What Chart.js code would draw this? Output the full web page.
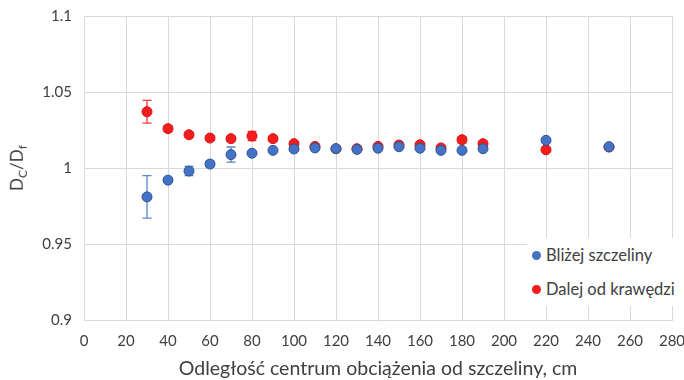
<!DOCTYPE html>
<html>
<head>
<meta charset="utf-8">
<script src="https://cdn.jsdelivr.net/npm/chart.js@4"></script>
<style>
  body { margin: 0; background: #fff; font-family: Lato, sans-serif; }
  #wrap { position: relative; width: 684px; height: 380px; }
  #ytitle { position: absolute; left: 6px; top: 168px; transform: translate(0, -50%) rotate(-90deg); transform-origin: center; font-size: 17px; color: #404040; width: 60px; text-align: center; margin-left: -18px; }
  #ytitle sub { font-size: 12px; }
  #legend { position: absolute; left: 527px; top: 238px; width: 148px; height: 68px; background: #fff; font-size: 16.5px; color: #404040; }
  #legend div { position: absolute; left: 5px; white-space: nowrap; }
  #legend span { display: inline-block; width: 9px; height: 9px; border-radius: 50%; margin-right: 5px; vertical-align: 1px; }
</style>
</head>
<body>
<div id="wrap">
  <canvas id="chart" width="684" height="380"></canvas>
  <div id="ytitle">D<sub>C</sub>/D<sub>f</sub></div>
  <div id="legend">
    <div style="top:7px"><span style="background:#4472C4"></span>Bliżej szczeliny</div>
    <div style="top:41px"><span style="background:#F21D1D"></span>Dalej od krawędzi</div>
  </div>
</div>
<script>
// odległość, cm
const distances = [30, 40, 50, 60, 70, 80, 90, 100, 110, 120, 130, 140, 150, 160, 170, 180, 190, 220, 250];
// Bliżej szczeliny
const nearValues = [0.981, 0.992, 0.998, 1.0026, 1.0088, 1.0097, 1.0116, 1.0125, 1.0132, 1.0127, 1.0122, 1.013, 1.014, 1.013, 1.0116, 1.0116, 1.0127, 1.0182, 1.014];
const nearErrors = [0.014, 0.0015, 0.003, 0.002, 0.005, 0.001, 0.001, 0.001, 0.001, 0.001, 0.001, 0.001, 0.001, 0.001, 0.001, 0.001, 0.001, 0.0015, 0.001];
// Dalej od krawędzi
const farValues = [1.037, 1.0259, 1.0219, 1.0197, 1.0193, 1.021, 1.0193, 1.016, 1.0142, 1.0127, 1.0127, 1.0142, 1.0151, 1.0153, 1.0132, 1.0186, 1.016, 1.012, 1.0138];
const farErrors = [0.0075, 0.002, 0.0015, 0.0015, 0.0015, 0.003, 0.0015, 0.001, 0.001, 0.001, 0.001, 0.001, 0.001, 0.001, 0.001, 0.002, 0.0015, 0.001, 0.001];

const xTicks = [0, 20, 40, 60, 80, 100, 120, 140, 160, 180, 200, 220, 240, 260, 280];
const yTicks = [0.9, 0.95, 1, 1.05, 1.1];

function points(values, errors) {
    return distances.map((d, i) => ({ x: d, y: values[i], err: errors[i] }));
}

// słupki błędów rysowane przez skale wykresu
const errorBars = {
    id: 'errorBars',
    beforeDatasetsDraw(chart) {
        const { ctx, scales: { x, y } } = chart;
        chart.data.datasets.forEach(ds => {
            ctx.save();
            ctx.strokeStyle = ds.errorColor;
            ctx.lineWidth = 1.3;
            ds.data.forEach(p => {
                const px = x.getPixelForValue(p.x);
                const top = y.getPixelForValue(p.y + p.err);
                const bot = y.getPixelForValue(p.y - p.err);
                ctx.beginPath();
                ctx.moveTo(px, top); ctx.lineTo(px, bot);
                ctx.moveTo(px - 4.5, top); ctx.lineTo(px + 4.5, top);
                ctx.moveTo(px - 4.5, bot); ctx.lineTo(px + 4.5, bot);
                ctx.stroke();
            });
            ctx.restore();
        });
    }
};

new Chart(document.getElementById('chart'), {
    type: 'scatter',
    data: {
        datasets: [{
            label: 'Bliżej szczeliny',
            data: points(nearValues, nearErrors),
            backgroundColor: '#4472C4',
            borderColor: '#2F5597',
            borderWidth: 1,
            pointRadius: 5,
            errorColor: '#5B85C9'
        }, {
            label: 'Dalej od krawędzi',
            data: points(farValues, farErrors),
            backgroundColor: '#F21D1D',
            borderColor: '#E01010',
            borderWidth: 1,
            pointRadius: 5,
            errorColor: '#EE3B3B'
        }]
    },
    options: {
        responsive: false,
        animation: false,
        layout: { padding: { top: 16, right: 12, left: 0, bottom: 0 } },
        plugins: { legend: { display: false }, tooltip: { enabled: false } },
        scales: {
            x: {
                type: 'linear', min: 0, max: 280,
                afterBuildTicks: s => { s.ticks = xTicks.map(v => ({ value: v })); },
                afterFit: s => { s.height = 60; s.paddingLeft = 0; s.paddingRight = 0; },
                grid: { color: '#D9D9D9', drawTicks: false },
                border: { color: '#D9D9D9' },
                ticks: { color: '#404040', font: { family: 'Lato', size: 15 }, padding: 12, maxRotation: 0 },
                title: { display: true, text: 'Odległość centrum obciążenia od szczeliny, cm', color: '#404040', font: { family: 'Lato', size: 19.5 }, padding: { top: 4, bottom: 0 } }
            },
            y: {
                min: 0.9, max: 1.1,
                afterBuildTicks: s => { s.ticks = yTicks.map(v => ({ value: v })); },
                afterFit: s => { s.width = 84; s.paddingTop = 0; s.paddingBottom = 0; },
                grid: { color: '#D9D9D9', drawTicks: false },
                border: { color: '#D9D9D9' },
                ticks: { color: '#404040', font: { family: 'Lato', size: 15 }, padding: 12, callback: v => String(v) }
            }
        }
    },
    plugins: [errorBars]
});
</script>
</body>
</html>
